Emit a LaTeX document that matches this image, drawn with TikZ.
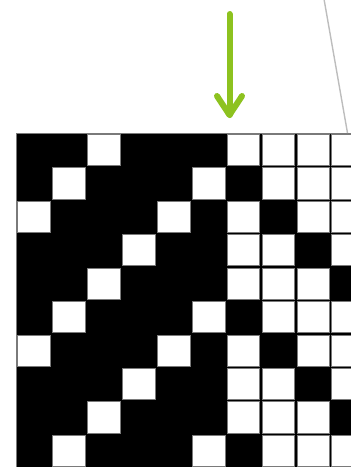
\documentclass[tikz,border=0pt]{standalone}
\usetikzlibrary{calc}
\definecolor{arrowgreen}{HTML}{8DC21F}
\definecolor{cellgray}{HTML}{7A7A7A}
\definecolor{guidegray}{HTML}{BDBDBD}
\tikzset{
  whitecell/.style={fill=white, draw=cellgray, line width=0.9pt},
  gridframe/.style={draw=cellgray, line width=0.8pt},
  greenarrow/.style={draw=arrowgreen, line width=6pt, line cap=round, line join=round},
  guideline/.style={draw=guidegray, line width=1.4pt}
}
\begin{document}
\begin{tikzpicture}[x=1pt,y=-1pt]
\useasboundingbox (0,0) rectangle (351,467);
\clip (0,0) rectangle (351,467);
\def\xo{16.7}\def\yo{133.3}\def\cw{34.9}\def\ch{33.43}\def\ins{1.1}
% grid background
\fill[black] (\xo,\yo) rectangle ({\xo+10*\cw},{\yo+10*\ch});
\draw[gridframe] (\xo,\yo) rectangle ({\xo+10*\cw},{\yo+10*\ch});
\foreach \r in {0,...,9}{
  \foreach \c in {0,...,9}{
    \pgfmathtruncatemacro\isw{(\c<6) ? (mod(\c+\r,4)==2) : ((mod(\c-\r+8,4)!=1) || (\c-\r>5))}
    \ifnum\isw=1
      \draw[whitecell] ({\xo+\c*\cw+\ins},{\yo+\r*\ch+\ins}) rectangle ({\xo+(\c+1)*\cw-\ins},{\yo+(\r+1)*\ch-\ins});
    \fi
  }
}
% green arrow
\coordinate (atop) at (229.5,14);
\coordinate (atip) at (229.5,115);
\coordinate (aleft) at (217,96);
\coordinate (aright) at (242,96);
\draw[greenarrow] (atop) -- (atip);
\draw[greenarrow] (aleft) -- (atip) -- (aright);
% gray guide line
\coordinate (gtop) at (324,-1);
\coordinate (gbot) at (347.5,133);
\draw[guideline] (gtop) -- (gbot);
\end{tikzpicture}
\end{document}
